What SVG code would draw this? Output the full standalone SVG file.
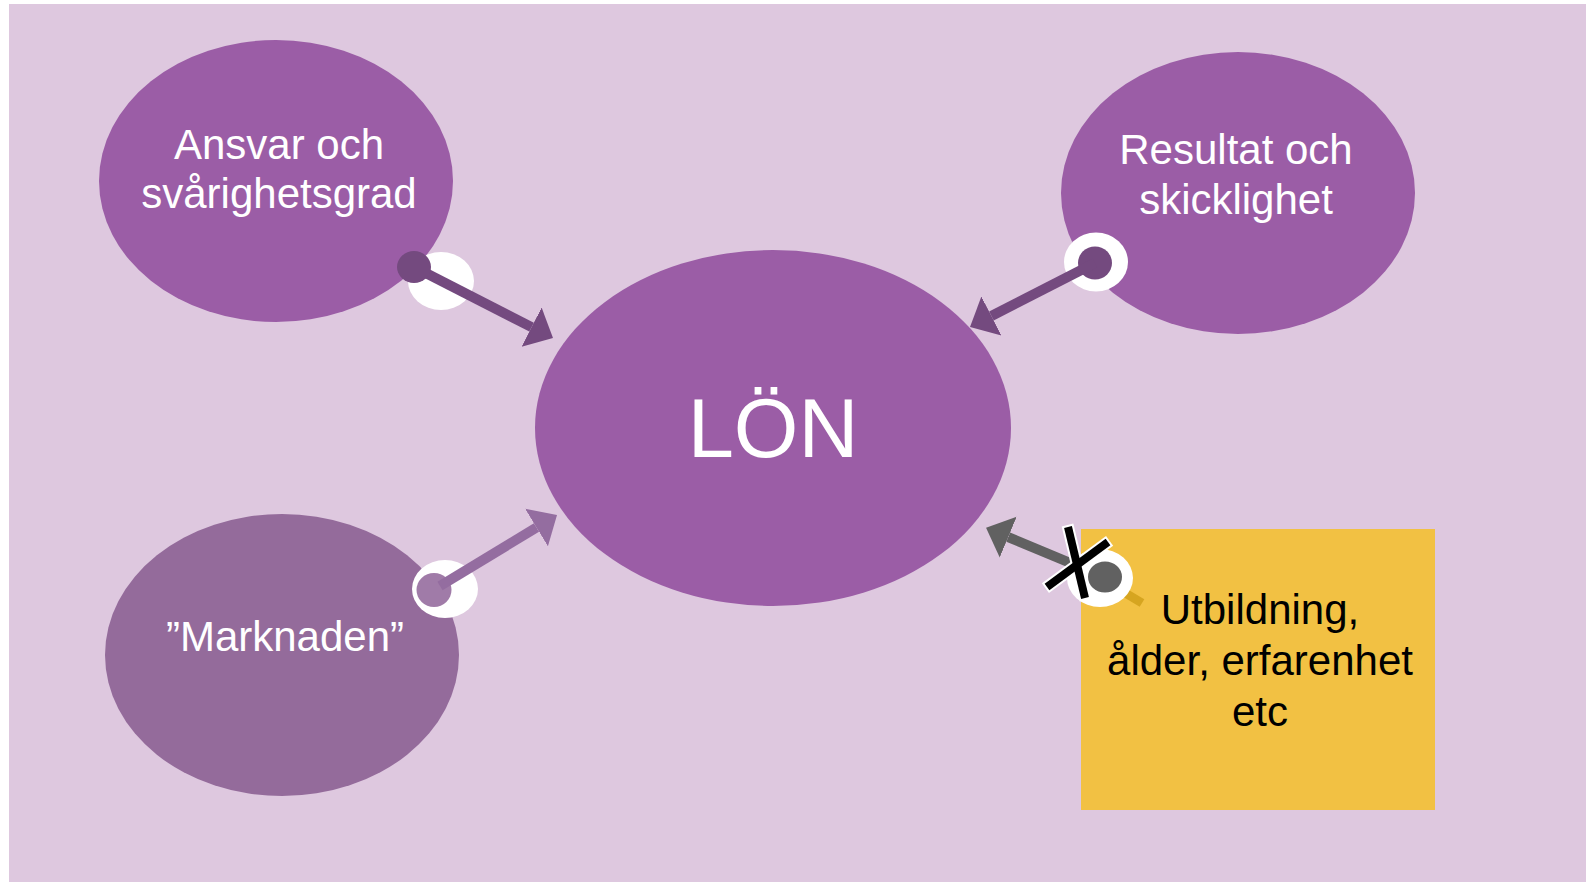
<svg xmlns="http://www.w3.org/2000/svg" width="1586" height="882" viewBox="0 0 1586 882">
<style>
.bg{fill:#DEC8DF}
.node{fill:#9B5DA6}
.mkt{fill:#946B9B}
.box{fill:#F2C143}
.lbl{font-family:"Liberation Sans",Arial,sans-serif;font-size:42px;fill:#FFFFFF;text-anchor:middle}
.big{font-size:83px}
.dark{fill:#000000}
.ring{fill:#FFFFFF}
.ln{stroke-width:10;fill:none}
</style>
<defs>
<marker id="hd" markerUnits="userSpaceOnUse" markerWidth="30" markerHeight="50" viewBox="0 -25 30 50" refX="0" refY="0" orient="auto"><path d="M0,-22 L24,0 L0,22 Z" fill="#744A7F"/></marker>
<marker id="hl" markerUnits="userSpaceOnUse" markerWidth="30" markerHeight="50" viewBox="0 -25 30 50" refX="0" refY="0" orient="auto"><path d="M0,-22 L24,0 L0,22 Z" fill="#946DA0"/></marker>
<marker id="hg" markerUnits="userSpaceOnUse" markerWidth="30" markerHeight="50" viewBox="0 -25 30 50" refX="0" refY="0" orient="auto"><path d="M0,-22 L24,0 L0,22 Z" fill="#616161"/></marker>
</defs>
<rect class="bg" x="9" y="4" width="1577" height="878"/>
<g id="node-ansvar">
<ellipse class="node" cx="276" cy="181" rx="177" ry="141"/>
<text class="lbl" x="279" y="159">Ansvar och</text>
<text class="lbl" x="279" y="208">svårighetsgrad</text>
</g>
<g id="node-resultat">
<ellipse class="node" cx="1238" cy="193" rx="177" ry="141"/>
<text class="lbl" x="1236" y="164">Resultat och</text>
<text class="lbl" x="1236" y="214">skicklighet</text>
</g>
<g id="node-lon">
<ellipse class="node" cx="773" cy="428" rx="238" ry="178"/>
<text class="lbl big" x="773" y="457">LÖN</text>
</g>
<g id="node-marknaden">
<ellipse class="mkt" cx="282" cy="655" rx="177" ry="141"/>
<text class="lbl" x="285" y="651">”Marknaden”</text>
</g>
<g id="node-utbildning">
<rect class="box" x="1081" y="529" width="354" height="281"/>
<text class="lbl dark" x="1260" y="624">Utbildning,</text>
<text class="lbl dark" x="1260" y="675">ålder, erfarenhet</text>
<text class="lbl dark" x="1260" y="726">etc</text>
</g>
<g id="connectors">
<g id="c-ansvar">
<ellipse class="ring" cx="441" cy="281" rx="33" ry="29"/>
<line class="ln" x1="414" y1="267" x2="531.6" y2="327.1" stroke="#744A7F" marker-end="url(#hd)"/>
<ellipse cx="414" cy="267" rx="17" ry="16" fill="#744A7F"/>
</g>
<g id="c-resultat">
<ellipse class="ring" cx="1096" cy="262" rx="32" ry="29.5"/>
<ellipse cx="1095" cy="263" rx="17" ry="16.5" fill="#744A7F"/>
<line class="ln" x1="1095" y1="263" x2="991.4" y2="316" stroke="#744A7F" marker-end="url(#hd)"/>
</g>
<g id="c-marknaden">
<ellipse class="ring" cx="445" cy="589" rx="33" ry="29"/>
<ellipse cx="434" cy="590" rx="17.5" ry="17" fill="#A07BA8"/>
<line class="ln" x1="440" y1="586" x2="536.5" y2="527.5" stroke="#946DA0" marker-end="url(#hl)"/>
</g>
<g id="c-utbildning">
<line x1="1100" y1="578" x2="1142" y2="603" stroke="#D6A520" stroke-width="9"/>
<ellipse class="ring" cx="1100" cy="578" rx="33" ry="29"/>
<ellipse cx="1105" cy="577" rx="17" ry="15.5" fill="#616161"/>
<line class="ln" x1="1080" y1="567" x2="1008.2" y2="537.1" stroke="#616161" marker-end="url(#hg)"/>
<line x1="1067.5" y1="525" x2="1085.5" y2="600" stroke="#FFFFFF" stroke-width="12"/>
<line x1="1109.6" y1="540.8" x2="1045.4" y2="588.2" stroke="#FFFFFF" stroke-width="12"/>
<line x1="1068" y1="527" x2="1085" y2="598" stroke="#000000" stroke-width="8"/>
<line x1="1108" y1="542" x2="1047" y2="587" stroke="#000000" stroke-width="8"/>
</g>
</g>
</svg>
